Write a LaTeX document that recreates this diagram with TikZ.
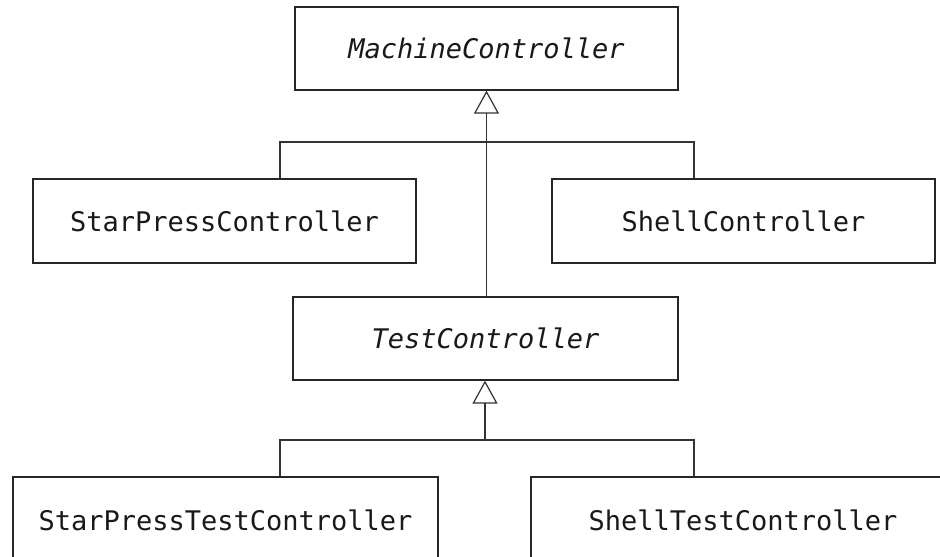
\documentclass[tikz,border=0pt]{standalone}
\usepackage{fontspec}
\setmonofont{DejaVu Sans Mono}
\usetikzlibrary{arrows.meta}
\begin{document}
\begin{tikzpicture}[x=1pt,y=-1pt,
  cls/.style={draw=black!85, line width=1.3pt, fill=white, inner sep=0pt,
    font=\ttfamily\fontsize{27}{30}\selectfont, text=black!90},
  link/.style={draw=black!80, line width=1.2pt},
  gen/.style={link, -{Triangle[open, length=23pt, width=25pt, line width=1.2pt]}}]
\useasboundingbox (0,0) rectangle (940,557);
\clip (0,0) rectangle (940,557);
\fill[white] (0,0) rectangle (940,557);
\node[cls, minimum width=383pt, minimum height=83pt] (mc) at (486.5,48.5) {\itshape MachineController};
\node[cls, minimum width=383pt, minimum height=84pt] (spc) at (224.5,221) {StarPressController};
\node[cls, minimum width=383pt, minimum height=84pt] (sc) at (743.5,221) {ShellController};
\node[cls, minimum width=385pt, minimum height=83pt] (tc) at (485.5,338.5) {\itshape TestController};
\node[cls, minimum width=425pt, minimum height=86pt] (sptc) at (225.5,520) {StarPressTestController};
\node[cls, minimum width=424pt, minimum height=86pt] (stc) at (743,520) {ShellTestController};
\coordinate (l1) at (280,142);
\coordinate (r1) at (694,142);
\coordinate (l2) at (280,440);
\coordinate (r2) at (694,440);
\coordinate (j2) at (485,440);
\draw[link] (l1 |- spc.north) -- (l1) -- (r1) -- (r1 |- sc.north);
\draw[gen] (tc.north -| mc.south) -- (mc.south);
\draw[link] (l2 |- sptc.north) -- (l2) -- (r2) -- (r2 |- stc.north);
\draw[gen] (j2) -- (j2 |- tc.south);
\end{tikzpicture}
\end{document}
